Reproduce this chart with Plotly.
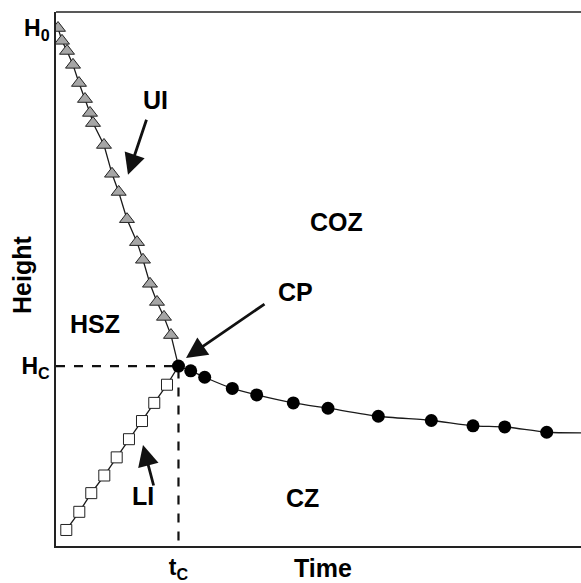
import plotly.graph_objects as go

# Upper interface (UI) – triangles
ui_x = [0.38, 1.14, 2.10, 3.24, 4.38, 5.52, 6.48, 7.05, 9.14, 10.67, 11.94, 13.52,
        15.43, 16.57, 17.90, 19.24, 20.57, 21.90]
ui_y = [97.0, 94.6, 92.7, 90.1, 86.7, 83.7, 81.1, 79.2, 75.1, 69.7, 66.3, 61.2,
        56.9, 53.6, 49.1, 45.7, 42.9, 39.5]

# Lower interface (LI) – squares
li_x = [1.96, 4.44, 6.72, 9.20, 11.56, 13.90, 16.38, 18.72, 21.14]
li_y = [3.0, 6.4, 9.9, 13.2, 16.6, 20.0, 23.4, 26.8, 30.2]

# Critical point
cp_x = 23.33
cp_y = 33.7

# Compression zone – circles
cz_x = [23.33, 25.66, 28.32, 33.58, 38.23, 45.20, 51.81, 61.39, 71.49, 79.43, 85.47, 93.47]
cz_y = [33.7, 32.8, 31.6, 29.5, 28.3, 26.8, 25.8, 24.3, 23.5, 22.5, 22.3, 21.3]
cz_end_x = 100.0
cz_end_y = 21.2

FONT = "Liberation Sans, Arial, sans-serif"
LC = "#1a1a1a"

fig = go.Figure()

# dashed guides
fig.add_trace(go.Scatter(x=[0, cp_x, cp_x], y=[cp_y, cp_y, 0], mode="lines",
                         line=dict(color="#111", width=2.2, dash="dash"), hoverinfo="skip"))

# UI line + markers
fig.add_trace(go.Scatter(x=ui_x + [cp_x], y=ui_y + [cp_y], mode="lines",
                         line=dict(color=LC, width=1.3), hoverinfo="skip"))
fig.add_trace(go.Scatter(x=ui_x, y=ui_y, mode="markers",
                         marker=dict(symbol="triangle-up", size=13, color="#a6a6a6",
                                     line=dict(color="#222", width=1))))
# LI line + markers
fig.add_trace(go.Scatter(x=li_x + [cp_x], y=li_y + [cp_y], mode="lines",
                         line=dict(color=LC, width=1.3), hoverinfo="skip"))
fig.add_trace(go.Scatter(x=li_x, y=li_y, mode="markers",
                         marker=dict(symbol="square", size=11, color="white",
                                     line=dict(color="#222", width=1))))
# CZ curve + markers
fig.add_trace(go.Scatter(x=cz_x + [cz_end_x], y=cz_y + [cz_end_y], mode="lines",
                         line=dict(color=LC, width=1.3, shape="spline", smoothing=0.6),
                         hoverinfo="skip"))
fig.add_trace(go.Scatter(x=cz_x, y=cz_y, mode="markers",
                         marker=dict(symbol="circle", size=13, color="black",
                                     line=dict(color="black", width=0))))

labels = [("UI", 18.86, 83.5), ("COZ", 53.5, 60.7), ("CP", 45.7, 47.6),
          ("HSZ", 7.43, 41.6), ("LI", 16.5, 9.4), ("CZ", 46.9, 9.0)]
for t, x, y in labels:
    fig.add_annotation(x=x, y=y, text=f"<b>{t}</b>", showarrow=False,
                       xanchor="center", yanchor="middle",
                       font=dict(family=FONT, size=25, color="black"))

arrows = [((13.71, 69.5), (17.33, 80.1)),
          ((24.76, 35.2), (40.0, 45.5)),
          ((16.57, 18.9), (18.67, 11.05))]
for (hx, hy), (tx, ty) in arrows:
    fig.add_annotation(x=hx, y=hy, ax=tx, ay=ty, axref="x", ayref="y", text="",
                       showarrow=True, arrowhead=2, arrowsize=1.5, arrowwidth=2.8,
                       arrowcolor="#111", standoff=0)

fig.add_annotation(x=(323 - 56) / 525, y=-(568 - 546) / 534, xref="paper", yref="paper",
                   text="<b>Time</b>", showarrow=False, xanchor="center", yanchor="middle",
                   font=dict(family=FONT, size=25, color="black"))
fig.add_annotation(x=-(56 - 22) / 525, y=(546 - 275) / 534, xref="paper", yref="paper",
                   text="<b>Height</b>", showarrow=False, textangle=-90,
                   xanchor="center", yanchor="middle",
                   font=dict(family=FONT, size=25, color="black"))

fig.update_layout(
    width=581, height=583,
    margin=dict(l=56, r=0, t=12, b=37),
    paper_bgcolor="white", plot_bgcolor="white",
    showlegend=False,
    xaxis=dict(range=[0, 100], showgrid=False, zeroline=False, showline=True,
               linecolor="#222", linewidth=1.5, ticks="",
               tickvals=[cp_x], ticktext=["<b>t<sub>C</sub></b>"],
               tickfont=dict(family=FONT, size=23, color="black")),
    yaxis=dict(range=[0, 100], showgrid=False, zeroline=False, showline=True,
               linecolor="#222", linewidth=1.5, ticks="",
               tickvals=[cp_y, 97.0], ticktext=["<b>H<sub>C</sub></b>", "<b>H<sub>0</sub></b>"],
               tickfont=dict(family=FONT, size=23, color="black")),
)
fig.add_shape(type="line", xref="paper", yref="paper", x0=0, x1=1, y0=1, y1=1,
              line=dict(color="#222", width=1.5))

fig.write_html("out.html")
